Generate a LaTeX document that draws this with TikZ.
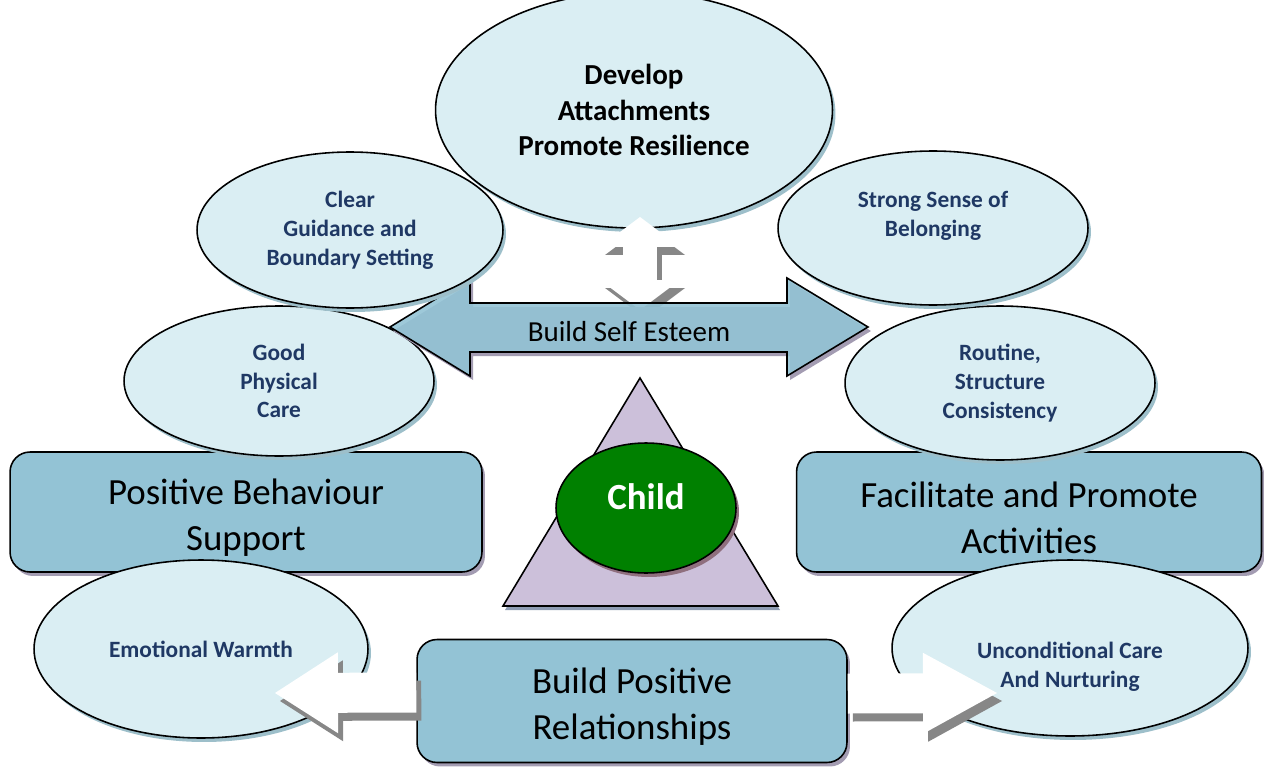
\documentclass[tikz,border=0pt]{standalone}
\usepackage{fontspec}
\setmainfont{Carlito}
\usetikzlibrary{shapes.geometric,shadows,arrows.meta}

\definecolor{bubblefill}{HTML}{DAEEF3}
\definecolor{bubbleshade}{HTML}{9DBFCA}
\definecolor{panelfill}{HTML}{93C3D5}
\definecolor{panelshade}{HTML}{A39CB2}
\definecolor{navytext}{HTML}{1F3864}
\definecolor{trianglefill}{HTML}{CCC0DA}
\definecolor{triangleshade}{HTML}{8E9CB3}
\definecolor{childgreen}{HTML}{008000}
\definecolor{childshade}{HTML}{8F6F7E}
\definecolor{arrowshade}{HTML}{878787}

\newcommand{\tallstrut}{\rule{0pt}{21pt}}

\tikzset{
  bubble/.style={ellipse, draw=black, line width=0.9pt, fill=bubblefill, inner sep=-0.2cm,
    align=center, text=navytext, font=\bfseries\fontsize{13.3}{16.4}\selectfont,
    drop shadow={shadow xshift=0.06cm, shadow yshift=-0.08cm, fill=bubbleshade, opacity=1}},
  panel/.style={rectangle, rounded corners=0.4cm, draw=black, line width=0.9pt, fill=panelfill,
    align=center, font=\fontsize{21}{26}\selectfont,
    drop shadow={shadow xshift=0.06cm, shadow yshift=-0.08cm, fill=panelshade, opacity=1}},
  whitearrow/.style={draw=white, line width=0.8cm, -{Triangle[length=#1, width=1.62cm, line width=0pt]}},
  arrowshadow/.style={draw=arrowshade, transform canvas={shift={(0.1cm,-0.16cm)}}}
}

\begin{document}
\begin{tikzpicture}[x=0.02cm,y=-0.02cm]
\useasboundingbox (0,0) rectangle (1264,767);

\node[panel, minimum width=9.44cm, minimum height=2.4cm] (behaviour) at (246,512) {\tallstrut Positive Behaviour\\Support};
\node[panel, minimum width=9.3cm, minimum height=2.4cm] (activities) at (1029,512) {\tallstrut Facilitate and Promote\\Activities};
\node[panel, minimum width=8.6cm, minimum height=2.46cm] (relations) at (632,701) {\tallstrut Build Positive\\Relationships};

\node[bubble, minimum width=7.94cm, minimum height=4.72cm, text=black, font=\bfseries\fontsize{16.5}{20}\selectfont] (develop) at (634,110) {Develop\\Attachments\\Promote Resilience};
\node[bubble, minimum width=6.2cm, minimum height=3cm] (physical) at (279,381) {Good\\Physical\\Care};
\node[bubble, minimum width=6.2cm, minimum height=3.08cm] (routine) at (1000,383) {Routine,\\Structure\\Consistency};

\coordinate (vtop) at (640,217);
\coordinate (vbottom) at (640,310);
\draw[arrowshadow, line width=0.68cm, {Triangle[length=0.6cm, width=1.6cm, line width=0pt]}-{Triangle[length=0.6cm, width=1.6cm, line width=0pt]}] (vtop) -- (vbottom);
\draw[white, line width=0.68cm, {Triangle[length=0.6cm, width=1.6cm, line width=0pt]}-{Triangle[length=0.6cm, width=1.6cm, line width=0pt]}] (vtop) -- (vbottom);

\draw[line width=0.9pt, fill=panelfill, fill opacity=0.9, drop shadow={shadow xshift=0.06cm, shadow yshift=-0.08cm, fill=panelshade, opacity=1}]
  (390,327) -- (470,278) -- (470,303) -- (787,303) -- (787,278) -- (868,327)
  -- (787,376) -- (787,352) -- (470,352) -- (470,376) -- cycle;
\node[font=\fontsize{16.5}{20}\selectfont] (esteem) at (629,332) {Build Self Esteem};

\node[bubble, minimum width=6.12cm, minimum height=3.12cm] (guidance) at (350,230) {Clear\\Guidance and\\Boundary Setting};
\node[bubble, minimum width=6.2cm, minimum height=3.08cm] (belonging) at (933,228) {Strong Sense of\\Belonging\\~};

\node[bubble, minimum width=6.68cm, minimum height=3.56cm] (warmth) at (201,649) {Emotional Warmth};
\node[bubble, minimum width=7.12cm, minimum height=3.52cm] (nurturing) at (1070,648) {\strut\\[3pt]Unconditional Care\\And Nurturing};

\coordinate (warmtip) at (275,693);
\coordinate (caretip) at (997,693);
\draw[whitearrow=1.26cm, arrowshadow] ([yshift=0.17cm]relations.west) -- (warmtip);
\draw[whitearrow=1.26cm] ([yshift=0.17cm]relations.west) -- (warmtip);
\draw[whitearrow=1.48cm, arrowshadow] ([yshift=0.15cm]relations.east) -- (caretip);
\draw[whitearrow=1.48cm] ([yshift=0.15cm]relations.east) -- (caretip);

\draw[line width=0.9pt, fill=trianglefill, drop shadow={shadow xshift=0.04cm, shadow yshift=-0.08cm, fill=triangleshade, opacity=1}]
  (640,378) -- (778,606) -- (503,606) -- cycle;
\node[ellipse, draw=black, line width=0.9pt, fill=childgreen, text=white, inner sep=0pt,
  minimum width=3.6cm, minimum height=2.6cm, font=\bfseries\fontsize{21}{25.6}\selectfont,
  drop shadow={shadow xshift=0.06cm, shadow yshift=-0.08cm, fill=childshade, opacity=1}, align=center]
  (child) at (646,508) {Child\\[-13pt]~};

\end{tikzpicture}
\end{document}
